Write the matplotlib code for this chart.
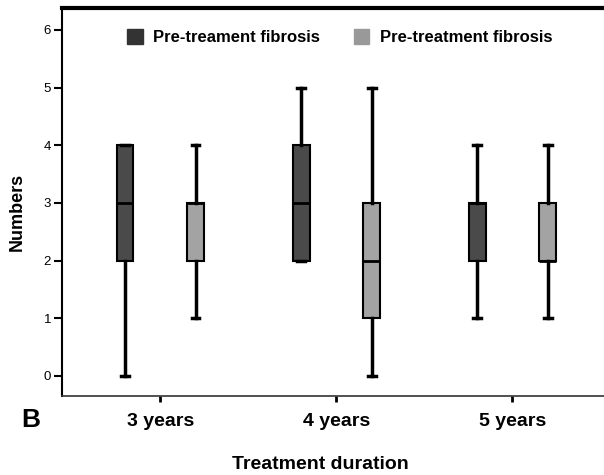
import matplotlib.pyplot as plt
from matplotlib.patches import Patch
from matplotlib.transforms import ScaledTranslation

plt.rcParams['font.family'] = ['Liberation Sans', 'DejaVu Sans']

groups = ["3 years", "4 years", "5 years"]
series = ["Pre-treament fibrosis", "Pre-treatment fibrosis"]
colors = ["#4a4a4a", "#a3a3a3"]
legend_colors = ["#333333", "#999999"]

# five-number summaries: low whisker, q1, median, q3, high whisker
dark_low = [0, 2, 1]
dark_q1 = [2, 2, 2]
dark_med = [3, 3, 3]
dark_q3 = [4, 4, 3]
dark_high = [4, 5, 4]

light_low = [1, 0, 1]
light_q1 = [2, 1, 2]
light_med = [3, 2, 2]
light_q3 = [3, 3, 3]
light_high = [4, 5, 4]

fig = plt.figure(figsize=(6.04, 4.75), dpi=100)
ax = fig.add_axes([0.103, 0.166, 0.897, 0.817])

def stats(low, q1, med, q3, high):
    return [dict(whislo=a, q1=b, med=c, q3=d, whishi=e, fliers=[])
            for a, b, c, d, e in zip(low, q1, med, q3, high)]

x = [1, 2, 3]
off = 0.2
for i, st in enumerate([stats(dark_low, dark_q1, dark_med, dark_q3, dark_high),
                        stats(light_low, light_q1, light_med, light_q3, light_high)]):
    pos = [p + (i * 2 - 1) * off for p in x]
    ax.bxp(st, positions=pos, widths=0.095, patch_artist=True, showfliers=False,
           boxprops=dict(facecolor=colors[i], edgecolor="black", linewidth=1.5),
           medianprops=dict(color="black", linewidth=2),
           whiskerprops=dict(color="black", linewidth=2.5),
           capprops=dict(color="black", linewidth=2.5),
           capwidths=0.045, manage_ticks=False)

ax.set_xlim(0.443, 3.52)
ax.set_ylim(-0.35, 6.38)
ax.set_xticks(x)
ax.set_xticklabels(groups, fontsize=14, fontweight="bold")
# labels in the original sit a little off their ticks
for lab, dx in zip(ax.get_xticklabels(), [-6, -6, 10]):
    lab.set_transform(lab.get_transform() + ScaledTranslation(dx / 100, 0, fig.dpi_scale_trans))
ax.set_yticks(range(0, 7))
ax.tick_params(axis="y", labelsize=9.5, length=6, width=1.5, pad=2)
ax.tick_params(axis="x", length=4, width=2, pad=8)

ax.spines["right"].set_visible(False)
ax.spines["top"].set_linewidth(3)
ax.spines["left"].set_linewidth(1.5)
ax.spines["bottom"].set_linewidth(1.2)
ax.spines["bottom"].set_color("#333333")

ax.set_ylabel("Numbers", fontsize=13, fontweight="bold")
ax.yaxis.set_label_coords(-0.067, 0.474)
ax.set_xlabel("Treatment duration", fontsize=14, fontweight="bold")
ax.xaxis.set_label_coords(0.476, -0.155)

fig.text(0.036, 0.116, "B", fontsize=19, fontweight="bold", ha="left", va="center")

handles = [Patch(facecolor=c, edgecolor=c) for c in legend_colors]
ax.legend(handles, series, ncol=2, frameon=False, loc="upper left",
          bbox_to_anchor=(0.185, 0.97), bbox_transform=fig.transFigure,
          prop=dict(weight="bold", size=12), handlelength=0.95, handleheight=0.95,
          columnspacing=2.0, handletextpad=0.65)

fig.savefig("out.png", dpi=100)
